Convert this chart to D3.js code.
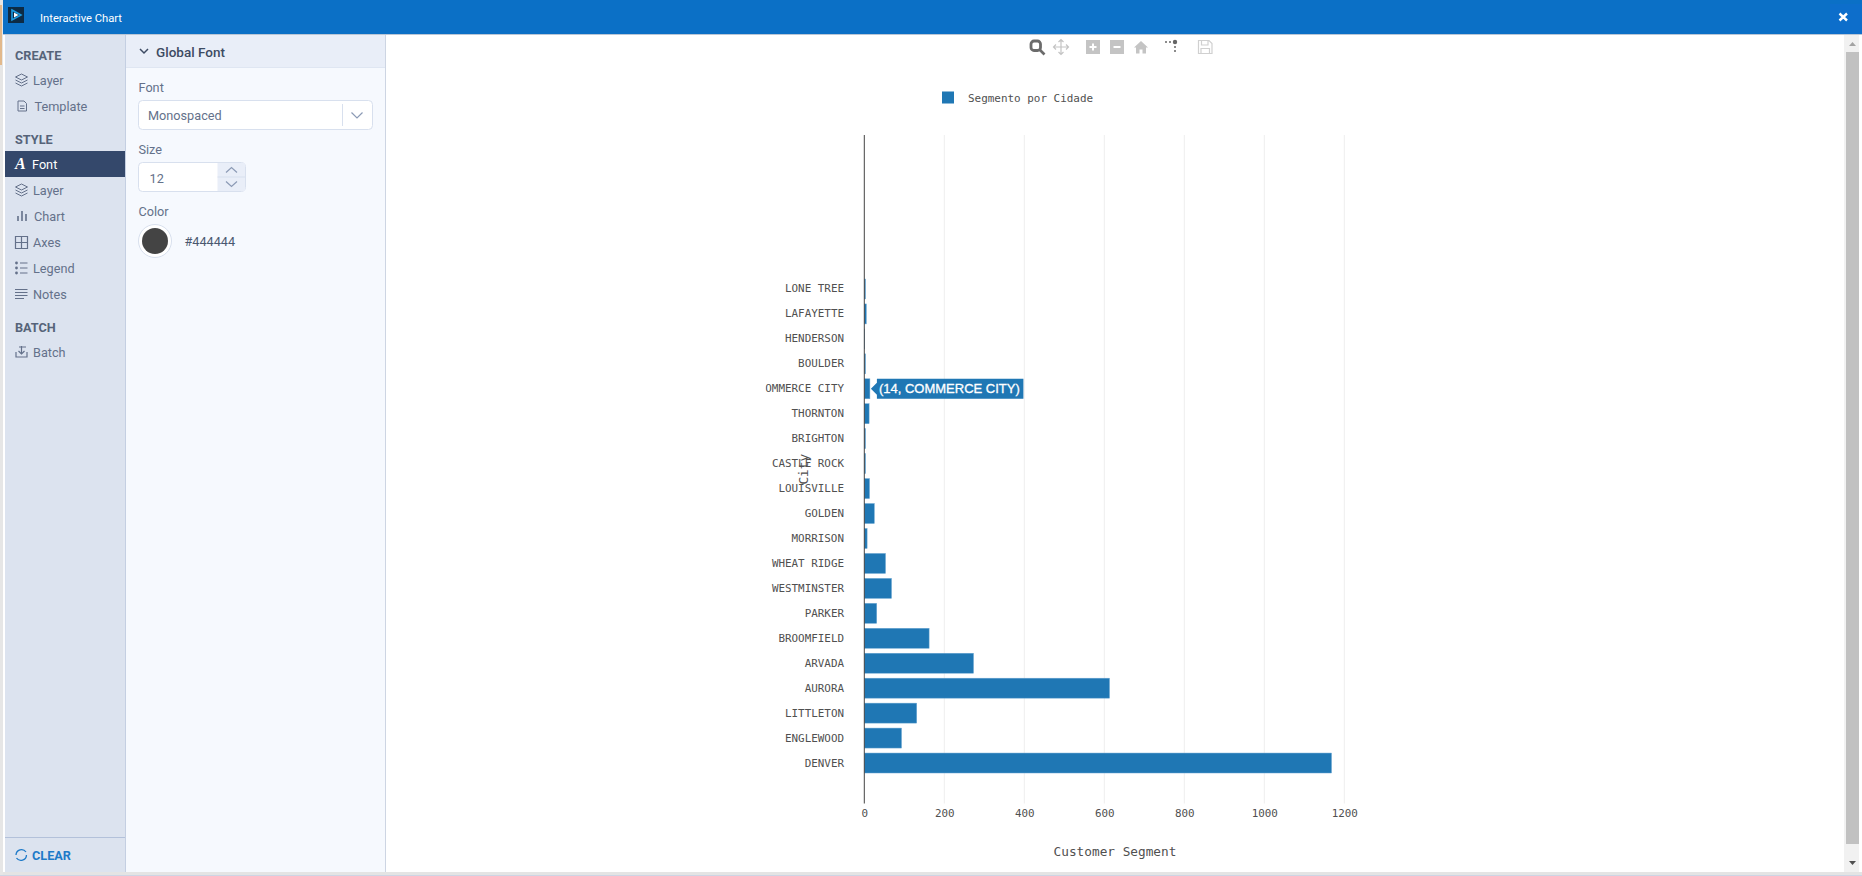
<!DOCTYPE html>
<html>
<head>
<meta charset="utf-8">
<title>Interactive Chart</title>
<script src="https://cdn.jsdelivr.net/npm/d3@7"></script>
<style>
  html, body { margin: 0; padding: 0; background: #fff; overflow: hidden; }
  svg { display: block; }
  .ui { font-family: Roboto, sans-serif; }
  .mono { font-family: "DejaVu Sans Mono", monospace; fill: #505050; }
</style>
</head>
<body>
<script>
// chart data (top row first)
var cities = ['LONE TREE', 'LAFAYETTE', 'HENDERSON', 'BOULDER', 'COMMERCE CITY', 'THORNTON', 'BRIGHTON',
  'CASTLE ROCK', 'LOUISVILLE', 'GOLDEN', 'MORRISON', 'WHEAT RIDGE', 'WESTMINSTER', 'PARKER',
  'BROOMFIELD', 'ARVADA', 'AURORA', 'LITTLETON', 'ENGLEWOOD', 'DENVER'];
var segments = [3, 5, 1, 3, 14, 12, 3, 3, 13, 25, 7, 53, 68, 31, 162, 273, 613, 131, 93, 1168];
var xTicks = [0, 200, 400, 600, 800, 1000, 1200];
var hoverCity = 'COMMERCE CITY';
var seriesName = 'Segmento por Cidade';
var xTitle = 'Customer Segment';
var yTitle = 'City';

var barColor = '#1f77b4';
var svg = d3.select('body').append('svg').attr('width', 1862).attr('height', 876);

function label(parent, x, y, str, size, color, weight) {
  return parent.append('text').attr('class', 'ui').attr('x', x).attr('y', y)
    .attr('dominant-baseline', 'central').attr('font-size', size)
    .attr('fill', color).attr('font-weight', weight || 400).text(str);
}
function box(parent, x, y, w, h, fill) {
  return parent.append('rect').attr('x', x).attr('y', y).attr('width', w).attr('height', h).attr('fill', fill);
}
function line(parent, d, color, width) {
  return parent.append('path').attr('d', d).attr('fill', 'none').attr('stroke', color).attr('stroke-width', width || 1);
}

// ---- window frame ----
var frame = svg.append('g');
box(frame, 0, 0, 1862, 876, '#ffffff');
box(frame, 0, 0, 3, 876, '#e6e6e6');
box(frame, 0, 5, 2, 60, '#e2b98c');
box(frame, 3, 0, 1859, 34, '#0b70c6');
box(frame, 3, 34, 1859, 1, '#b9c6d6');
box(frame, 1830, 4, 32, 30, '#0d6ecb');
box(frame, 8, 7, 16, 16, '#0d2b45');
frame.append('path').attr('d', 'M12 10 L21 15 L12 20 Z').attr('fill', 'none').attr('stroke', '#1b9be0').attr('stroke-width', 1.6);
frame.append('path').attr('d', 'M14 12.5 L18.5 15 L14 17.5 Z').attr('fill', '#ffffff');
label(frame, 40, 18, 'Interactive Chart', 11.2, '#ffffff');
line(frame, 'M1839.5 13.5 L1847 20.5 M1847 13.5 L1839.5 20.5', '#ffffff', 2.4);

// ---- left nav ----
var nav = svg.append('g');
box(nav, 5, 35, 121, 837, '#dce3ef');
box(nav, 125, 35, 1, 837, '#c4cfe2');
box(nav, 5, 837, 120, 1, '#b3c1da');

var navColor = '#64718a';
var headColor = '#566379';
var navHeads = [['CREATE', 55], ['STYLE', 139], ['BATCH', 327]];
var navItems = [['Layer', 80, 33], ['Template', 106, 34.5], ['Layer', 190, 33], ['Chart', 216, 34],
  ['Axes', 242, 33], ['Legend', 268, 33], ['Notes', 294, 33], ['Batch', 352, 33]];
navHeads.forEach(function (d) { label(nav, 15, d[1], d[0], 12.7, headColor, 700); });
navItems.forEach(function (d) { label(nav, d[2], d[1], d[0], 12.7, navColor); });

box(nav, 5, 151, 120, 26, '#34486b');
nav.append('text').attr('x', 15).attr('y', 169).attr('font-family', 'Liberation Serif')
  .attr('font-style', 'italic').attr('font-weight', 700).attr('font-size', 16).attr('fill', '#ffffff').text('A');
label(nav, 32, 164, 'Font', 12.7, '#ffffff');

// little stacked-layer glyph, used twice
[80, 190].forEach(function (cy) {
  line(nav, 'M15.5 ' + (cy - 3) + ' L21.5 ' + (cy - 6) + ' L27.5 ' + (cy - 3) + ' L21.5 ' + cy + ' Z', navColor, 1);
  line(nav, 'M15.5 ' + cy + ' L21.5 ' + (cy + 3) + ' L27.5 ' + cy, navColor, 1);
  line(nav, 'M15.5 ' + (cy + 3) + ' L21.5 ' + (cy + 6) + ' L27.5 ' + (cy + 3), navColor, 1);
});
// template
line(nav, 'M18 101 L24 101 L26.5 103.5 L26.5 111 L18 111 Z M20 106 L24.5 106 M20 108.5 L24.5 108.5', navColor, 1);
// chart
line(nav, 'M18 221 L18 216 M22 221 L22 211 M26 221 L26 214', navColor, 1.6);
// axes
line(nav, 'M15.5 236.5 H27.5 V248.5 H15.5 Z M21.5 236.5 V248.5 M15.5 242.5 H27.5', navColor, 1.2);
// legend
line(nav, 'M20 263 H27.5 M20 268 H27.5 M20 273 H27.5', navColor, 1.2);
nav.selectAll('circle.lg').data([263, 268, 273]).enter().append('circle').attr('cx', 16.5)
  .attr('cy', function (d) { return d; }).attr('r', 1.4).attr('fill', navColor);
// notes
line(nav, 'M15 289.5 H27.5 M15 292.5 H27.5 M15 295.5 H27.5 M15 298.5 H24', navColor, 1.2);
// batch
line(nav, 'M16 352 V357 H27 V352 M21.5 346 V354 M18.5 351 L21.5 354 L24.5 351 M19 347 H26', navColor, 1.2);
// clear
line(nav, 'M16 855 A5.5 5.5 0 0 1 26 852 M26.5 855 A5.5 5.5 0 0 1 16.5 858', '#1e7ac8', 1.3);
label(nav, 32, 855, 'CLEAR', 12.7, '#1e7ac8', 700);

// ---- font panel ----
var panel = svg.append('g');
box(panel, 126, 35, 259, 837, '#f6f9fe');
box(panel, 385, 35, 1, 837, '#cdd5e3');
box(panel, 126, 35, 259, 32, '#e9eef8');
box(panel, 126, 67, 259, 1, '#dfe6f2');
line(panel, 'M140 49 L144 53 L148 49', '#3d4b63', 1.5);
label(panel, 156, 52, 'Global Font', 13.5, '#3d4b63', 500);

var fieldColor = '#64718a';
label(panel, 138.5, 87, 'Font', 12.7, fieldColor);
label(panel, 138.5, 149, 'Size', 12.7, fieldColor);
label(panel, 138.5, 211, 'Color', 12.7, fieldColor);

panel.append('rect').attr('x', 138.5).attr('y', 100.5).attr('width', 234).attr('height', 29).attr('rx', 4)
  .attr('fill', '#ffffff').attr('stroke', '#d8e0ee');
box(panel, 342, 104, 1, 22, '#d8e0ee');
label(panel, 148, 115, 'Monospaced', 12.7, fieldColor);
line(panel, 'M351.5 112.5 L357 118 L362.5 112.5', '#8b9ab5', 1.2);

panel.append('rect').attr('x', 138.5).attr('y', 162.5).attr('width', 107).attr('height', 29).attr('rx', 4)
  .attr('fill', '#ffffff').attr('stroke', '#d8e0ee');
box(panel, 217.5, 163, 27.5, 28, '#e9eef8');
box(panel, 217.5, 176.5, 27.5, 1, '#d8e0ee');
label(panel, 149.5, 178, '12', 12.7, fieldColor);
line(panel, 'M226 172.5 L231.5 167.5 L237 172.5', '#8b9ab5', 1.2);
line(panel, 'M226 181.5 L231.5 186.5 L237 181.5', '#8b9ab5', 1.2);

panel.append('circle').attr('cx', 155).attr('cy', 241).attr('r', 16.5).attr('fill', '#ffffff').attr('stroke', '#d8e0ee');
panel.append('circle').attr('cx', 155).attr('cy', 241).attr('r', 13).attr('fill', '#444444');
label(panel, 184.5, 241.5, '#444444', 12.7, '#4a5870', 400);

// ---- toolbar above the plot ----
var tools = svg.append('g');
var toolOn = '#6b6b6b', toolOff = '#c4c4c4';
tools.append('rect').attr('x', 1031).attr('y', 41).attr('width', 9.5).attr('height', 9.5).attr('rx', 3)
  .attr('fill', 'none').attr('stroke', toolOn).attr('stroke-width', 2.8);
line(tools, 'M1040 50 L1044.5 54.5', toolOn, 2.6);
line(tools, 'M1061 40 V54 M1054 47 H1068 M1058.5 42 L1061 39.5 L1063.5 42 M1058.5 52 L1061 54.5 L1063.5 52 M1056 44.5 L1053.5 47 L1056 49.5 M1066 44.5 L1068.5 47 L1066 49.5', toolOff, 1.2);
box(tools, 1086, 40, 14, 14, toolOff);
line(tools, 'M1093 43.5 V50.5 M1089.5 47 H1096.5', '#ffffff', 2);
box(tools, 1110, 40, 14, 14, toolOff);
line(tools, 'M1113.5 47 H1120.5', '#ffffff', 2);
tools.append('path').attr('d', 'M1134 47.5 L1141 41 L1148 47.5 L1146 47.5 L1146 53.5 L1142.5 53.5 L1142.5 49.5 L1139.5 49.5 L1139.5 53.5 L1136 53.5 L1136 47.5 Z').attr('fill', toolOff);
tools.selectAll('circle.sp').data([[1166, 42], [1170, 42], [1175, 42], [1175, 47], [1175, 51]]).enter().append('circle')
  .attr('cx', function (d) { return d[0]; }).attr('cy', function (d) { return d[1]; })
  .attr('r', function (d, i) { return i === 2 ? 2.2 : 1; }).attr('fill', '#666666');
line(tools, 'M1198.5 40.5 H1209 L1212 43.5 V53.5 H1198.5 Z M1201.5 40.5 V45 H1208 V40.5 M1201 53.5 V48.5 H1209.5 V53.5', '#d0d0d0', 1.2);

// ---- scrollbar ----
var scroll = svg.append('g');
box(scroll, 1844, 35, 15, 837, '#f1f1f1');
box(scroll, 1846, 52, 13, 792, '#c1c1c1');
scroll.append('path').attr('d', 'M1849 46 L1852.5 42 L1856 46 Z').attr('fill', '#a3a3a3');
scroll.append('path').attr('d', 'M1849 861 L1856 861 L1852.5 865 Z').attr('fill', '#505050');
box(frame, 3, 872, 1859, 3, '#e4e4e4');
box(frame, 0, 875, 1862, 1, '#cdd5e5');

// ---- the chart ----
var plotTop = 135, plotBottom = 803.5;
var x = d3.scaleLinear().domain([0, 1200]).range([864.3, 1344.3]);
var y = d3.scaleBand().domain(cities).range([276.5, 775.5]).paddingInner(0.2).paddingOuter(0.1);

var chart = svg.append('g');

chart.append('g').selectAll('line').data(xTicks.slice(1)).enter().append('line')
  .attr('x1', function (d) { return x(d); }).attr('x2', function (d) { return x(d); })
  .attr('y1', plotTop).attr('y2', plotBottom)
  .attr('stroke', '#eeeeee').attr('stroke-width', 1);

chart.append('g').selectAll('rect').data(cities).enter().append('rect')
  .attr('x', x(0))
  .attr('y', function (d) { return y(d); })
  .attr('width', function (d, i) { return x(segments[i]) - x(0); })
  .attr('height', y.bandwidth())
  .attr('fill', barColor)
  .attr('stroke', '#6aa6d2').attr('stroke-width', 0.5);

chart.append('line').attr('x1', x(0)).attr('x2', x(0)).attr('y1', plotTop).attr('y2', plotBottom)
  .attr('stroke', '#444444').attr('stroke-width', 1);

var xAxis = chart.append('g').attr('transform', 'translate(0,' + plotBottom + ')')
  .call(d3.axisBottom(x).tickValues(xTicks).tickFormat(d3.format('d')).tickSize(0).tickPadding(6));
xAxis.select('.domain').remove();

svg.append('defs').append('clipPath').attr('id', 'yclip').append('rect')
  .attr('x', 765.5).attr('y', plotTop).attr('width', 200).attr('height', plotBottom - plotTop);
var yAxis = chart.append('g').attr('clip-path', 'url(#yclip)').append('g').attr('transform', 'translate(' + x(0) + ',0)')
  .call(d3.axisLeft(y).tickSize(0).tickPadding(20.3));
yAxis.select('.domain').remove();

[xAxis, yAxis].forEach(function (a) {
  a.selectAll('text').attr('class', 'mono').attr('font-family', null).style('font-size', '10.9px');
});

chart.append('text').attr('class', 'mono').attr('x', 1115).attr('y', 851.5).attr('text-anchor', 'middle')
  .attr('dominant-baseline', 'central').style('font-size', '12.75px').text(xTitle);
chart.append('text').attr('class', 'mono').attr('text-anchor', 'middle').attr('dominant-baseline', 'central')
  .attr('transform', 'translate(803,' + ((plotTop + plotBottom) / 2) + ') rotate(-90)')
  .style('font-size', '12.75px').text(yTitle);

// legend
box(chart, 942, 91.5, 12, 12, barColor);
chart.append('text').attr('class', 'mono').attr('x', 968).attr('y', 98)
  .attr('dominant-baseline', 'central').style('font-size', '10.95px').text(seriesName);

// hover label for one bar
var hoverValue = segments[cities.indexOf(hoverCity)];
var hx = x(hoverValue), hy = y(hoverCity) + y.bandwidth() / 2;
var tip = chart.append('g').attr('transform', 'translate(' + hx + ',' + hy + ')');
tip.append('path').attr('d', 'M1 0 L7 -6 L7 -10 L153.5 -10 L153.5 10 L7 10 L7 6 Z').attr('fill', barColor);
tip.append('text').attr('x', 9).attr('y', 0).attr('dominant-baseline', 'central')
  .attr('font-family', '"Liberation Sans", Arial, sans-serif').attr('font-size', 13).attr('font-weight', 400)
  .attr('fill', '#ffffff').attr('stroke', '#ffffff').attr('stroke-width', 0.3)
  .text('(' + hoverValue + ', ' + hoverCity + ')');
</script>
</body>
</html>
